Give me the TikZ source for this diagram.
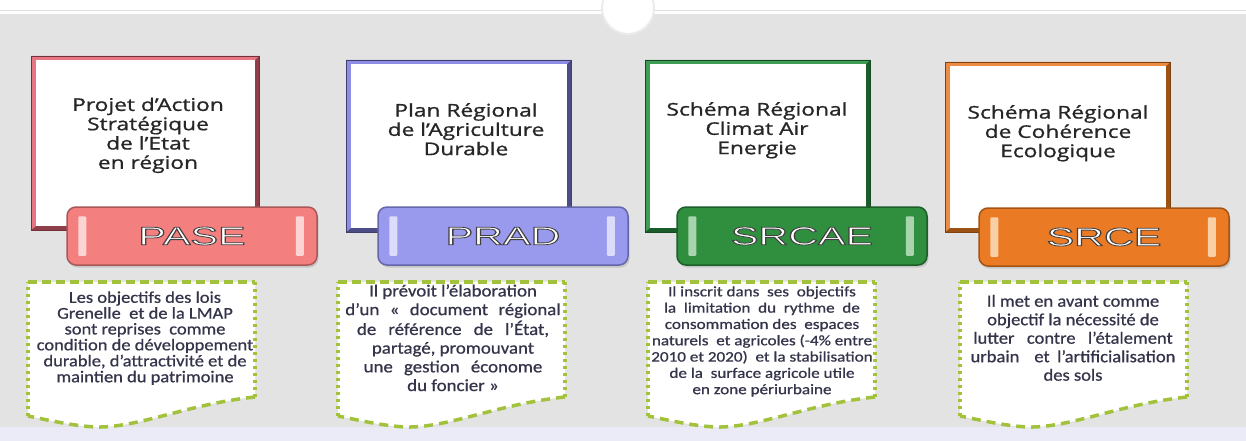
\documentclass[tikz,border=0pt]{standalone}
\usepackage{fontspec}
\usepackage{graphicx}
\newfontfamily\titlefont[FakeBold=0.9]{Open Sans}
\newfontfamily\bodyfont[FakeBold=0.7]{Carlito}
\newfontfamily\pillfont{Liberation Sans}
\definecolor{bggray}{HTML}{E3E3E3}
\definecolor{lav}{HTML}{EBEBF7}
\definecolor{dashgreen}{HTML}{A2C23C}
\definecolor{titlecol}{HTML}{262626}
\definecolor{bodycol}{HTML}{34344A}
\definecolor{aLight}{HTML}{E57682}\definecolor{aDark}{HTML}{8E3F4A}
\definecolor{bLight}{HTML}{8D8DE6}\definecolor{bDark}{HTML}{4D4D85}
\definecolor{cLight}{HTML}{3F9C55}\definecolor{cDark}{HTML}{1B5C2B}
\definecolor{dLight}{HTML}{EC8C44}\definecolor{dDark}{HTML}{9C5214}
\definecolor{aFill}{HTML}{F47F7F}\definecolor{aLine}{HTML}{A85858}\definecolor{aBar}{HTML}{FCD4D4}
\definecolor{bFill}{HTML}{9999EE}\definecolor{bLine}{HTML}{6666AA}\definecolor{bBar}{HTML}{DCDCFA}
\definecolor{cFill}{HTML}{2F8F3F}\definecolor{cLine}{HTML}{1D5E29}\definecolor{cBar}{HTML}{A8D5AE}
\definecolor{dFill}{HTML}{EA7A24}\definecolor{dLine}{HTML}{A45414}\definecolor{dBar}{HTML}{F9CFA6}
% white letters with a thin dark outline (fill+stroke text rendering)
\newcommand\outl[1]{\leavevmode{\color{white}%
  \special{pdf:literal direct 0.25 0.25 0.25 RG 0.8 w 2 Tr}#1\special{pdf:literal direct 0 Tr}}}
% card frame: x0 y0 x1 y1 light dark
\newcommand\drawcard[6]{%
  \fill[#6] (#1,#2) rectangle (#3,#4);
  \fill[#5] (#1,#2) -- (#3,#2) -- (#3-4,#2+4) -- (#1+5,#2+4) -- (#1+5,#4-4) -- (#1,#4) -- cycle;
  \fill[white] (#1+5,#2+4) rectangle (#3-4,#4-4);
  \draw[#6!80!black, line width=0.6pt] (#1,#2) rectangle (#3,#4);
}
% note box with dashed outline: x0
\newcommand\notebox[1]{%
  \fill[white] (#1,282) -- (#1+227,282) -- (#1+227,397)
    .. controls (#1+160,404) and (#1+110,428) .. (#1+68,427)
    .. controls (#1+45,426) and (#1+20,420) .. (#1,416) -- cycle;
  \draw[dashline, dash pattern=on 9pt off 5pt] (#1,282) -- (#1+227,282);
  \draw[dashline, dash pattern=on 3pt off 4pt] (#1+227,282) -- (#1+227,397);
  \draw[dashline, dash pattern=on 9pt off 6pt] (#1+227,397)
    .. controls (#1+160,404) and (#1+110,428) .. (#1+68,427)
    .. controls (#1+45,426) and (#1+20,420) .. (#1,416);
  \draw[dashline, dash pattern=on 3pt off 4pt] (#1,416) -- (#1,282);
}
% pill bars: node name, bar colour
\newcommand\pillbars[2]{%
  \fill[#2, rounded corners=1pt] ([xshift=12pt,yshift=-10pt]#1.north west) rectangle ([xshift=20pt,yshift=10pt]#1.south west);
  \fill[#2, rounded corners=1pt] ([xshift=-22pt,yshift=-10pt]#1.north east) rectangle ([xshift=-14pt,yshift=10pt]#1.south east);
}
\tikzset{
  dashline/.style={draw=dashgreen, line width=3.5pt},
  pill/.style={rounded corners=9pt, minimum width=250pt, minimum height=58pt, line width=1.5pt, inner sep=0pt},
  pillshadow/.style={rounded corners=9pt, minimum width=250pt, minimum height=58pt, fill=black!22, draw=none, inner sep=0pt},
  pilltext/.style={font=\pillfont\fontsize{25.5}{25}\selectfont, inner sep=0pt},
  titletext/.style={font=\titlefont\fontsize{17.5}{19.3}\selectfont, text=titlecol, inner sep=0pt},
  bodytext/.style={text=bodycol, inner sep=0pt},
}
\begin{document}
\begin{tikzpicture}[x=1pt,y=-1pt]
\useasboundingbox (0,0) rectangle (1246,441);
% background
\fill[white] (0,0) rectangle (1246,441);
\fill[bggray] (0,14) rectangle (1246,427);
\fill[lav] (0,427) rectangle (1246,441);
\draw[black!12, line width=0.8pt] (0,10.5) -- (1246,10.5);
\draw[black!8, line width=2pt, fill=white] (628,8) circle (26pt);
\draw[white, line width=3pt] (628,8) circle (23pt);

% cards
\drawcard{31}{56}{259}{230}{aLight}{aDark}
\drawcard{346}{60}{571}{232}{bLight}{bDark}
\drawcard{645}{60}{870}{232}{cLight}{cDark}
\drawcard{945}{62}{1170}{232}{dLight}{dDark}

% titles
\node[titletext] (t1) at (148,136) {\scalebox{1.3}[1]{\begin{tabular}{@{}c@{}}Projet d’Action\\Stratégique\\de l’Etat\\en région\end{tabular}}};
\node[titletext] (t2) at (466,132) {\scalebox{1.3}[1]{\begin{tabular}{@{}c@{}}Plan Régional\\de l’Agriculture\\Durable\end{tabular}}};
\node[titletext] (t3) at (757,131) {\scalebox{1.3}[1]{\begin{tabular}{@{}c@{}}Schéma Régional\\Climat Air\\Energie\end{tabular}}};
\node[titletext] (t4) at (1058,134) {\scalebox{1.3}[1]{\begin{tabular}{@{}c@{}}Schéma Régional\\de Cohérence\\Ecologique\end{tabular}}};

% pills
\node[pillshadow] (s1) at (193.5,238.5) {};
\node[pillshadow] (s2) at (504.5,238.5) {};
\node[pillshadow] (s3) at (803.5,238.5) {};
\node[pillshadow] (s4) at (1105.5,239.5) {};
\node[pill, fill=aFill, draw=aLine] (pase) at (192,236) {};
\node[pill, fill=bFill, draw=bLine] (prad) at (503,236) {};
\node[pill, fill=cFill, draw=cLine] (srcae) at (802,236) {};
\node[pill, fill=dFill, draw=dLine] (srce) at (1104,237) {};
\pillbars{pase}{aBar}
\pillbars{prad}{bBar}
\pillbars{srcae}{cBar}
\pillbars{srce}{dBar}
\node[pilltext] (l1) at (pase.center) {\scalebox{1.62}[1]{\outl{PASE}}};
\node[pilltext] (l2) at (prad.center) {\scalebox{1.62}[1]{\outl{PRAD}}};
\node[pilltext] (l3) at (srcae.center) {\scalebox{1.62}[1]{\outl{SRCAE}}};
\node[pilltext] (l4) at (srce.center) {\scalebox{1.62}[1]{\outl{SRCE}}};

% note boxes
\notebox{28}
\notebox{338}
\notebox{648}
\notebox{960}

\node[bodytext, font=\bodyfont\fontsize{16.5}{14.7}\selectfont] (n1) at (145,339) {\scalebox{1.12}[1]{\begin{tabular}{@{}c@{}}Les objectifs des lois\\Grenelle \ et de la LMAP\\sont reprises \ comme\\condition de développement\\durable, d’attractivité et de\\maintien du patrimoine\end{tabular}}};
\node[bodytext, font=\bodyfont\fontsize{17}{18.7}\selectfont] (n2) at (453,340) {\scalebox{1.11}[1]{\begin{tabular}{@{}c@{}}Il prévoit l’élaboration\\\makebox[194pt][s]{d’un « document régional}\\\makebox[173pt][s]{de référence de l’État,}\\partagé, promouvant\\\makebox[161pt][s]{une gestion économe}\\du foncier »\end{tabular}}};
\node[bodytext, font=\bodyfont\fontsize{14.5}{16.3}\selectfont] (n3) at (762,342) {\scalebox{1.18}[1]{\begin{tabular}{@{}c@{}}Il inscrit dans \ ses \ objectifs\\la \ limitation \ du \ rythme \ de\\consommation des \ espaces\\naturels \ et agricoles (-4\% entre\\2010 et 2020) \ et la stabilisation\\de la \ surface agricole utile\\en zone périurbaine\end{tabular}}};
\node[bodytext, font=\bodyfont\fontsize{17}{18.5}\selectfont] (n4) at (1073,340) {\scalebox{1.09}[1]{\begin{tabular}{@{}c@{}}Il met en avant comme\\objectif la nécessité de\\\makebox[183pt][s]{lutter contre l’étalement}\\\makebox[188pt][s]{urbain \ et l’artificialisation}\\des sols\end{tabular}}};
\end{tikzpicture}
\end{document}
